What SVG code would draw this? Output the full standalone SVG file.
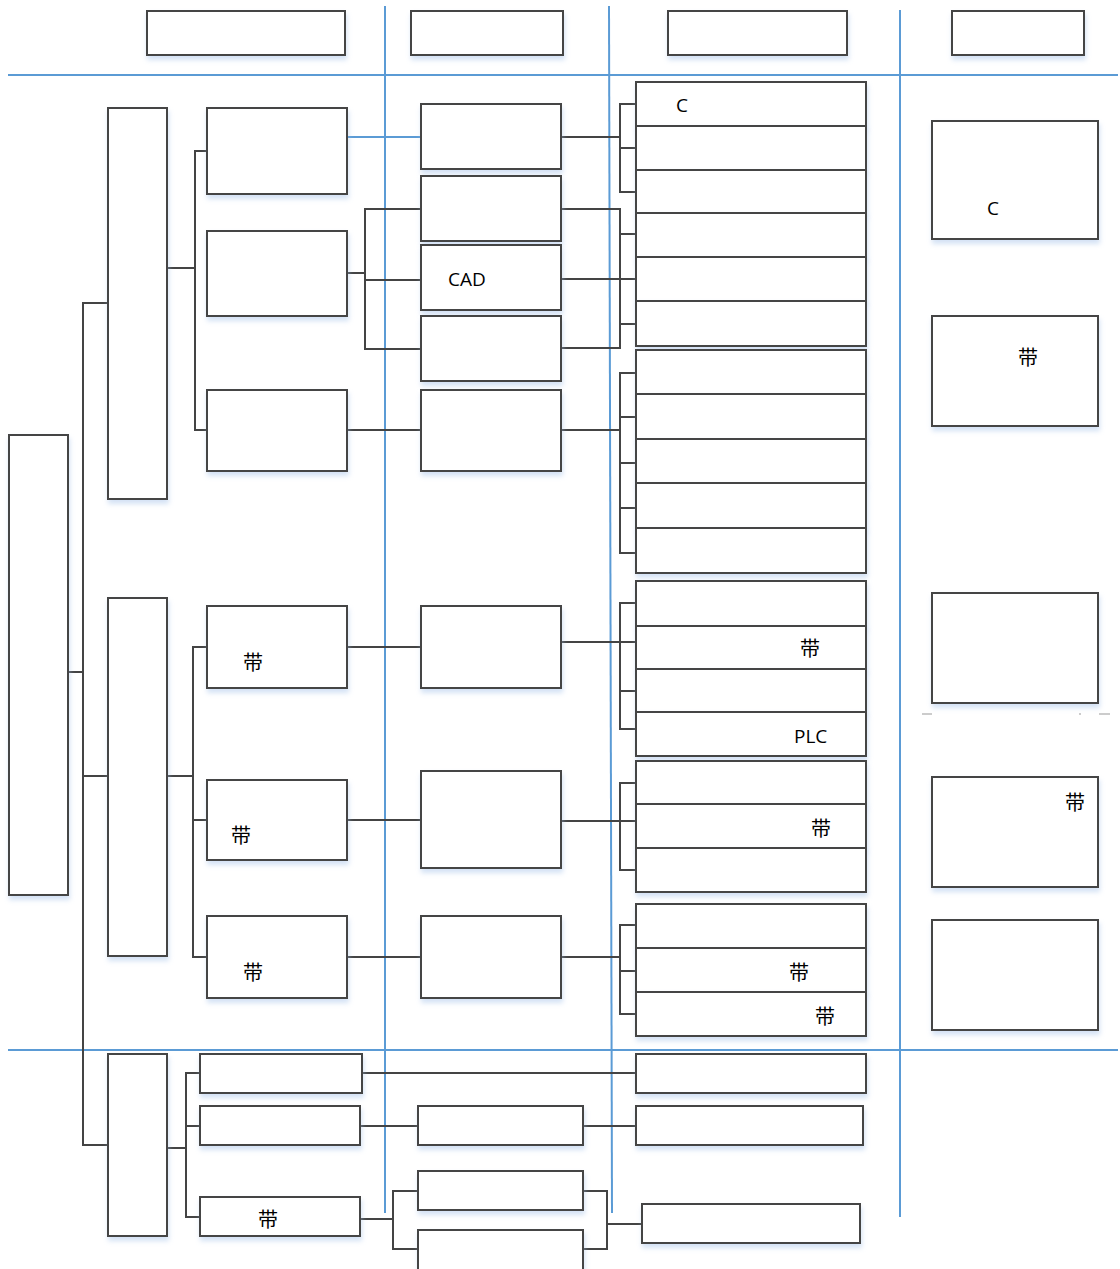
<svg xmlns="http://www.w3.org/2000/svg" width="1120" height="1269" viewBox="0 0 1120 1269">
<defs>
<filter id="sh" x="-10%" y="-10%" width="130%" height="140%">
<feDropShadow dx="1" dy="4" stdDeviation="2.5" flood-color="#9fc0e8" flood-opacity="0.45"/>
</filter>
<style>
.b{fill:#fff;stroke:#444;stroke-width:2;filter:url(#sh)}
.c{fill:none;stroke:#444;stroke-width:2}
.g{fill:none;stroke:#5b9bd5;stroke-width:2}
.t{font-family:"Open Sans","Liberation Sans",sans-serif;font-size:19px;fill:#000}
.z{font-family:"Noto Sans CJK SC",sans-serif;font-size:20px;fill:#000;text-anchor:middle}
.f{fill:none;stroke:#ccc;stroke-width:2}
</style>
</defs>
<rect width="1120" height="1269" fill="#fff"/>
<g id="lanes">
<line class="g" x1="8" y1="75" x2="1118" y2="75"/>
<line class="g" x1="8" y1="1050" x2="1118" y2="1050"/>
<line class="g" x1="385" y1="6" x2="385" y2="1213"/>
<line class="g" x1="609" y1="6" x2="612" y2="1213"/>
<line class="g" x1="900" y1="10" x2="900" y2="1217"/>
</g>
<g id="connectors">
<polyline class="c" points="68,672 83,672"/>
<polyline class="c" points="108,303 83,303 83,1145 108,1145"/>
<polyline class="c" points="83,776 108,776"/>
<polyline class="c" points="167,268 195,268"/>
<polyline class="c" points="207,151 195,151 195,430 207,430"/>
<line class="g" x1="347" y1="137" x2="421" y2="137"/>
<polyline class="c" points="347,273 365,273"/>
<polyline class="c" points="421,209 365,209 365,349 421,349"/>
<polyline class="c" points="365,280 421,280"/>
<polyline class="c" points="347,430 421,430"/>
<polyline class="c" points="561,137 620,137"/>
<polyline class="c" points="636,104 620,104 620,192 636,192"/>
<polyline class="c" points="620,148 636,148"/>
<polyline class="c" points="561,209 620,209 620,348 561,348"/>
<polyline class="c" points="561,279 636,279"/>
<polyline class="c" points="620,234 636,234"/>
<polyline class="c" points="620,324 636,324"/>
<polyline class="c" points="561,430 620,430"/>
<polyline class="c" points="636,373 620,373 620,553 636,553"/>
<polyline class="c" points="620,417 636,417"/>
<polyline class="c" points="620,463 636,463"/>
<polyline class="c" points="620,508 636,508"/>
<polyline class="c" points="167,776 193,776"/>
<polyline class="c" points="207,647 193,647 193,957 207,957"/>
<polyline class="c" points="193,820 207,820"/>
<polyline class="c" points="347,647 421,647"/>
<polyline class="c" points="347,820 421,820"/>
<polyline class="c" points="347,957 421,957"/>
<polyline class="c" points="561,642 636,642"/>
<polyline class="c" points="636,603 620,603 620,729 636,729"/>
<polyline class="c" points="620,691 636,691"/>
<polyline class="c" points="561,821 636,821"/>
<polyline class="c" points="636,783 620,783 620,870 636,870"/>
<polyline class="c" points="561,957 620,957"/>
<polyline class="c" points="636,925 620,925 620,1014 636,1014"/>
<polyline class="c" points="620,971 636,971"/>
<polyline class="c" points="167,1148 186,1148"/>
<polyline class="c" points="200,1073 186,1073 186,1217 200,1217"/>
<polyline class="c" points="186,1126 200,1126"/>
<polyline class="c" points="362,1073 636,1073"/>
<polyline class="c" points="360,1126 418,1126"/>
<polyline class="c" points="583,1126 636,1126"/>
<polyline class="c" points="360,1219 393,1219"/>
<polyline class="c" points="418,1191 393,1191 393,1249 418,1249"/>
<polyline class="c" points="583,1191 607,1191 607,1249 583,1249"/>
<polyline class="c" points="607,1224 642,1224"/>
</g>
<g id="faint">
<line class="f" x1="922" y1="714" x2="932" y2="714"/>
<line class="f" x1="1079" y1="714" x2="1081" y2="714"/>
<line class="f" x1="1099" y1="714" x2="1110" y2="714"/>
</g>
<g id="h1"><rect class="b" x="147" y="11" width="198" height="44"/></g>
<g id="h2"><rect class="b" x="411" y="11" width="152" height="44"/></g>
<g id="h3"><rect class="b" x="668" y="11" width="179" height="44"/></g>
<g id="h4"><rect class="b" x="952" y="11" width="132" height="44"/></g>
<g id="root"><rect class="b" x="9" y="435" width="59" height="460"/></g>
<g id="A"><rect class="b" x="108" y="108" width="59" height="391"/></g>
<g id="B"><rect class="b" x="108" y="598" width="59" height="358"/></g>
<g id="C"><rect class="b" x="108" y="1054" width="59" height="182"/></g>
<g id="A1"><rect class="b" x="207" y="108" width="140" height="86"/></g>
<g id="A2"><rect class="b" x="207" y="231" width="140" height="85"/></g>
<g id="A3"><rect class="b" x="207" y="390" width="140" height="81"/></g>
<g id="B1"><rect class="b" x="207" y="606" width="140" height="82"/><text class="z" x="253" y="670">带</text></g>
<g id="B2"><rect class="b" x="207" y="780" width="140" height="80"/><text class="z" x="241" y="843">带</text></g>
<g id="B3"><rect class="b" x="207" y="916" width="140" height="82"/><text class="z" x="253" y="980">带</text></g>
<g id="D1"><rect class="b" x="421" y="104" width="140" height="65"/></g>
<g id="D2"><rect class="b" x="421" y="176" width="140" height="65"/></g>
<g id="D3"><rect class="b" x="421" y="245" width="140" height="65"/><text class="t" x="448" y="286">CAD</text></g>
<g id="D4"><rect class="b" x="421" y="316" width="140" height="65"/></g>
<g id="D5"><rect class="b" x="421" y="390" width="140" height="81"/></g>
<g id="D6"><rect class="b" x="421" y="606" width="140" height="82"/></g>
<g id="D7"><rect class="b" x="421" y="771" width="140" height="97"/></g>
<g id="D8"><rect class="b" x="421" y="916" width="140" height="82"/></g>
<g id="S1">
<rect class="b" x="636" y="82" width="230" height="44"/>
<rect class="b" x="636" y="126" width="230" height="44"/>
<rect class="b" x="636" y="170" width="230" height="43"/>
<rect class="b" x="636" y="213" width="230" height="44"/>
<rect class="b" x="636" y="257" width="230" height="44"/>
<rect class="b" x="636" y="301" width="230" height="45"/>
<text class="t" x="676" y="112">C</text>
</g>
<g id="S2">
<rect class="b" x="636" y="350" width="230" height="44"/>
<rect class="b" x="636" y="394" width="230" height="45"/>
<rect class="b" x="636" y="439" width="230" height="44"/>
<rect class="b" x="636" y="483" width="230" height="45"/>
<rect class="b" x="636" y="528" width="230" height="45"/>
</g>
<g id="S3">
<rect class="b" x="636" y="581" width="230" height="45"/>
<rect class="b" x="636" y="626" width="230" height="43"/>
<rect class="b" x="636" y="669" width="230" height="43"/>
<rect class="b" x="636" y="712" width="230" height="44"/>
<text class="z" x="810" y="656">带</text>
<text class="t" x="794" y="743">PLC</text>
</g>
<g id="S4">
<rect class="b" x="636" y="761" width="230" height="43"/>
<rect class="b" x="636" y="804" width="230" height="44"/>
<rect class="b" x="636" y="848" width="230" height="44"/>
<text class="z" x="821" y="836">带</text>
</g>
<g id="S5">
<rect class="b" x="636" y="904" width="230" height="44"/>
<rect class="b" x="636" y="948" width="230" height="44"/>
<rect class="b" x="636" y="992" width="230" height="44"/>
<text class="z" x="799" y="980">带</text>
<text class="z" x="825" y="1024">带</text>
</g>
<g id="R1"><rect class="b" x="932" y="121" width="166" height="118"/><text class="t" x="987" y="215">C</text></g>
<g id="R2"><rect class="b" x="932" y="316" width="166" height="110"/><text class="z" x="1028" y="365">带</text></g>
<g id="R3"><rect class="b" x="932" y="593" width="166" height="110"/></g>
<g id="R4"><rect class="b" x="932" y="777" width="166" height="110"/><text class="z" x="1075" y="810">带</text></g>
<g id="R5"><rect class="b" x="932" y="920" width="166" height="110"/></g>
<g id="E1"><rect class="b" x="200" y="1054" width="162" height="39"/></g>
<g id="E2"><rect class="b" x="200" y="1106" width="160" height="39"/></g>
<g id="E3"><rect class="b" x="200" y="1197" width="160" height="39"/><text class="z" x="268" y="1227">带</text></g>
<g id="G1"><rect class="b" x="418" y="1106" width="165" height="39"/></g>
<g id="G2"><rect class="b" x="418" y="1171" width="165" height="39"/></g>
<g id="G3"><rect class="b" x="418" y="1230" width="165" height="45"/></g>
<g id="F1"><rect class="b" x="636" y="1054" width="230" height="39"/></g>
<g id="F2"><rect class="b" x="636" y="1106" width="227" height="39"/></g>
<g id="F3"><rect class="b" x="642" y="1204" width="218" height="39"/></g>
</svg>
